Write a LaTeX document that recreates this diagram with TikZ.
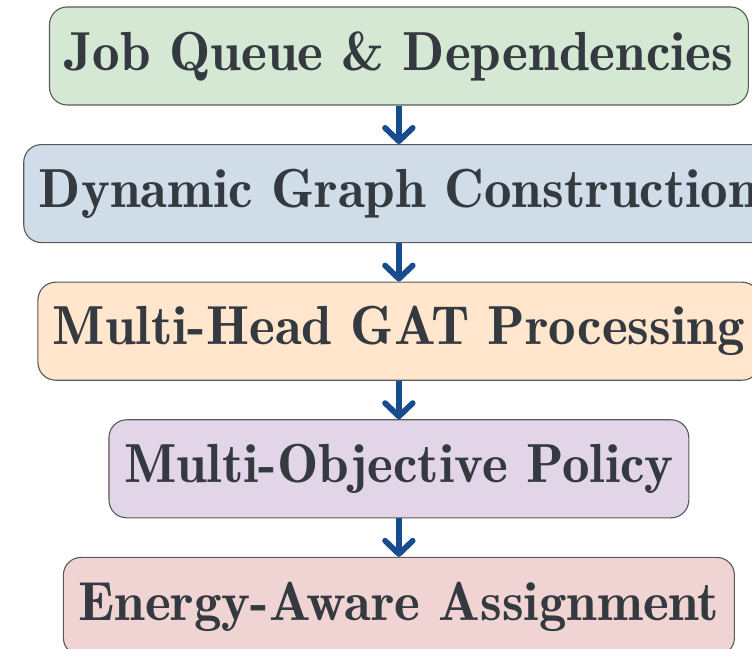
\documentclass[tikz,border=0pt]{standalone}
\usepackage{tikz}
\usetikzlibrary{positioning, calc, arrows.meta}

\definecolor{jobgreen}{HTML}{D5E8D4}
\definecolor{graphblue}{HTML}{D0DCE8}
\definecolor{gatorange}{HTML}{FFE6CC}
\definecolor{policypurple}{HTML}{E1D5E7}
\definecolor{energyred}{HTML}{F0D4D4}
\definecolor{textdark}{HTML}{343A40}
\definecolor{flowblue}{HTML}{174C8E}

\begin{document}
\begin{tikzpicture}[node distance=17.4pt, every node/.style={rectangle, rounded corners=8pt, draw=black!65, line width=0.5pt, text=textdark, font=\Huge\fontseries{b}\selectfont, minimum height=44.3pt, inner xsep=6.8pt}]
        \clip[use as bounding box] (-180.3pt,25.3pt) rectangle (159.6pt,-268pt);

        \node[fill=jobgreen] (job) at (0,0) {Job Queue \& Dependencies};
        \node (graph) [below=of job, fill=graphblue] {Dynamic Graph Construction};
        \node (gat) [below=of graph, fill=gatorange] {Multi-Head GAT Processing};
        \node (policy) [below=of gat, fill=policypurple] {Multi-Objective Policy};
        \node (energy) [below=of policy, fill=energyred] {Energy-Aware Assignment};

        % pipeline arrows
        \foreach \i/\j in {job/graph, graph/gat, gat/policy, policy/energy} {
            \draw[flowblue, line width=2.6pt, -{Straight Barb[length=6pt, width=12.5pt, round]}] (\i) -- (\j);
        }
    \end{tikzpicture}
\end{document}
